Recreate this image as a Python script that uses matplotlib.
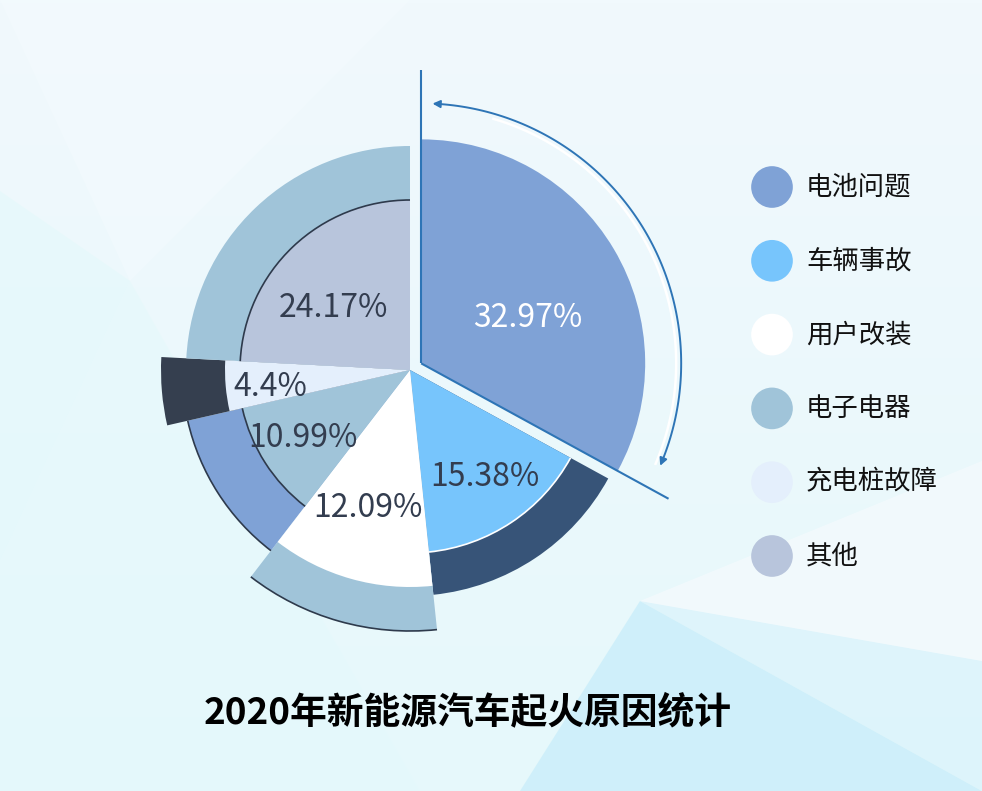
import numpy as np
import matplotlib
matplotlib.use("Agg")
import matplotlib.pyplot as plt
from matplotlib.patches import Wedge, Arc, Polygon, FancyArrowPatch
from matplotlib.path import Path

plt.rcParams['font.family'] = ['Noto Sans CJK SC', 'DejaVu Sans']

# 数据
categories = ['电池问题', '车辆事故', '用户改装', '电子电器', '充电桩故障', '其他']
shares = [32.97, 15.38, 12.09, 10.99, 4.4, 24.17]
title = '2020年新能源汽车起火原因统计'

# 样式
inner_colors = ['#7fa2d6', '#77c5fc', '#ffffff', '#a0c4d9', '#e4effc', '#b8c5dc']
outer_colors = [None, '#375478', '#a0c4d9', '#7fa2d6', '#353f4f', '#a0c4d9']
inner_r = [224, 183, 217, 172, 185, 170]
outer_r = [None, 226, 261, 228, 249, 224]
label_r = [116, 131, 144, 127, 141, 99]
label_shift = [-7.6, 1.4, -1, 0, 2, 7.5]
label_colors = ['white', '#333d4f', '#333d4f', '#333d4f', '#333d4f', '#333d4f']
dark = '#2e3a4c'
blue_line = '#2e75b6'

W, H = 982, 791
fig = plt.figure(figsize=(W / 100, H / 100), dpi=100)
ax = fig.add_axes([0, 0, 1, 1])
ax.set_xlim(0, W)
ax.set_ylim(0, H)
ax.axis('off')

# 背景
grad = np.linspace(0, 1, 256).reshape(-1, 1)
ax.imshow(grad, extent=[0, W, 0, H], origin='upper', aspect='auto',
          cmap=matplotlib.colors.LinearSegmentedColormap.from_list('bg', ['#f1f9fd', '#e6f8fb']),
          zorder=0)
bg_shapes = [
    ([(0, 230), (130, 510), (0, 600)], '#e3f8fb', 0.6),
    ([(0, 0), (0, 230), (130, 510), (420, 0)], '#e4f8fb', 0.5),
    ([(520, 0), (640, 190), (982, 0)], '#cdeffa', 0.9),
    ([(640, 190), (982, 130), (982, 0)], '#d8f2fb', 0.6),
    ([(640, 190), (982, 330), (982, 130)], '#f4fafd', 0.8),
    ([(130, 510), (410, 791), (0, 791)], '#f4fbfe', 0.5),
]
for pts, c, a in bg_shapes:
    ax.add_patch(Polygon(pts, closed=True, fc=c, ec='none', alpha=a, zorder=1))

cx, cy = 410, 421
explode = 13

# 扇区角度（顺时针，从正上方开始）
fracs = np.array(shares) / np.sum(shares) * 360
starts = 90 - np.concatenate([[0], np.cumsum(fracs)[:-1]])
ends = starts - fracs

for i in range(len(shares)):
    mid = np.radians((starts[i] + ends[i]) / 2)
    if i == 0:
        ox, oy = cx + explode * np.cos(mid), cy + explode * np.sin(mid)
    else:
        ox, oy = cx, cy
    if outer_colors[i] is not None:
        ax.add_patch(Wedge((ox, oy), outer_r[i], ends[i], starts[i],
                           fc=outer_colors[i], ec='none', zorder=3))
    ax.add_patch(Wedge((ox, oy), inner_r[i], ends[i], starts[i],
                       fc=inner_colors[i], ec='none', zorder=4))
    lang = np.radians((starts[i] + ends[i]) / 2 + label_shift[i])
    ax.text(ox + label_r[i] * np.cos(lang), oy + label_r[i] * np.sin(lang),
            f'{shares[i]}%', color=label_colors[i], fontsize=23,
            ha='center', va='center', zorder=6)

# 描边弧线
ax.add_patch(Arc((cx, cy), 2 * inner_r[5], 2 * inner_r[5], theta1=ends[5], theta2=starts[5],
                 color=dark, lw=1.2, zorder=5))
ax.add_patch(Arc((cx, cy), 2 * inner_r[3], 2 * inner_r[3], theta1=ends[3], theta2=starts[3],
                 color=dark, lw=1.2, zorder=5))
ax.add_patch(Arc((cx, cy), 2 * outer_r[3], 2 * outer_r[3], theta1=ends[3], theta2=starts[3],
                 color=dark, lw=1.2, zorder=3.5))
ax.add_patch(Arc((cx, cy), 2 * outer_r[2], 2 * outer_r[2], theta1=ends[2], theta2=starts[2],
                 color=dark, lw=1.2, zorder=3.5))
ax.add_patch(Arc((cx, cy), 2 * inner_r[1], 2 * inner_r[1], theta1=ends[1], theta2=starts[1],
                 color='white', lw=1.2, zorder=5))

# 电池问题的外框线与箭头
mid0 = np.radians((starts[0] + ends[0]) / 2)
ex, ey = cx + explode * np.cos(mid0), cy + explode * np.sin(mid0)
for ang, length in [(starts[0], 293), (ends[0], 282)]:
    a = np.radians(ang)
    ax.plot([ex, ex + length * np.cos(a)], [ey, ey + length * np.sin(a)],
            color=blue_line, lw=1.5, zorder=5, solid_capstyle='butt')

t = np.radians(np.linspace(ends[0] + 5.5, starts[0] - 2.5, 120))
ax.plot(ex + 255 * np.cos(t[:-15]), ey + 255 * np.sin(t[:-15]), color='white', lw=1.8, zorder=4.5)
arc_path = Path(np.column_stack([ex + 260 * np.cos(t), ey + 260 * np.sin(t)]))
ax.add_patch(FancyArrowPatch(path=arc_path, arrowstyle='<|-|>', mutation_scale=11,
                             color=blue_line, lw=1.4, zorder=5))

# 图例
for i, name in enumerate(categories):
    ly = 604 - i * 73.8
    ax.scatter([772], [ly], s=900, color=inner_colors[i], edgecolors='none', zorder=6)
    ax.text(806, ly, name, fontsize=19, color='#111111', ha='left', va='center', zorder=6)

ax.text(468, 78, title, fontsize=26.5, fontweight='black', color='black',
        ha='center', va='center', zorder=6)

plt.savefig('out.png', dpi=100)
plt.close()
